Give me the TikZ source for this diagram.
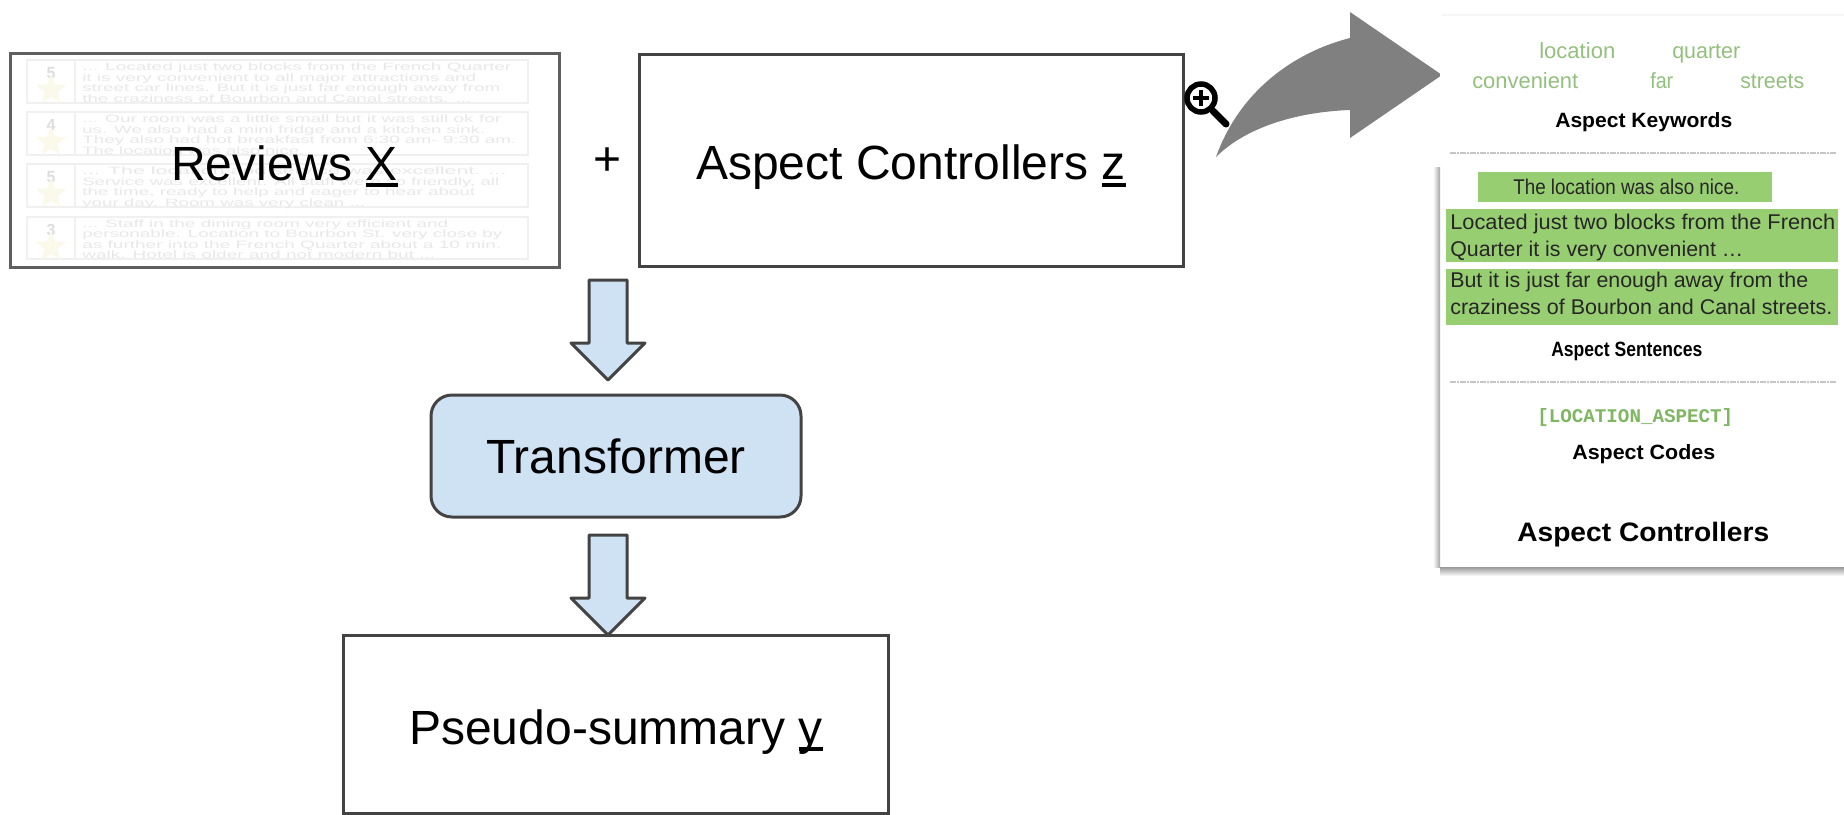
\documentclass[tikz,border=0pt]{standalone}
\usepackage{graphicx}
\usepackage{fontspec}
\setmainfont{Liberation Sans}
\setmonofont{Liberation Mono}
\usetikzlibrary{shapes.geometric,calc}
\definecolor{edgec}{HTML}{434343}
\definecolor{revedge}{HTML}{5F5F5F}
\definecolor{bluef}{HTML}{CFE2F3}
\definecolor{fadetext}{HTML}{E8E8E8}
\definecolor{fadeline}{HTML}{F0F0F0}
\definecolor{fadestar}{HTML}{FBF9EA}
\definecolor{fadenum}{HTML}{DDDDDD}
\definecolor{kwgreen}{HTML}{93C07E}
\definecolor{codegreen}{HTML}{7FB661}
\definecolor{hlgreen}{HTML}{98CE72}
\definecolor{bigarrow}{HTML}{808080}
\newdimen\pxu \pxu=0.75pt
\newcounter{autonode}
\newcommand{\ulc}[1]{\setbox0\hbox{#1}\rlap{\rule[-7\pxu]{\wd0}{4\pxu}}\box0 }
\newcommand{\fitw}[2]{\resizebox{#1\pxu}{\height}{#2}}
% faded review line: baseline y, right end, text
\newcommand{\revline}[3]{\stepcounter{autonode}\node[revtext] (rl\theautonode) at (82,#1) {\fitw{\the\numexpr#2-82\relax}{#3}};}
% panel text: font style, colour, left x, right x, baseline y, text
\newcommand{\ptext}[6]{\stepcounter{autonode}\node[anchor=base west,inner sep=0pt,text=#2,font=#1] (pt\theautonode) at (#3,#5) {\fitw{\the\numexpr#4-#3\relax}{#6}};}
\tikzset{
  mainbox/.style={draw=edgec,line width=3*0.75pt,inner sep=0pt,font=\fontsize{36}{36}\selectfont,text depth=0pt},
  revtext/.style={anchor=base west,inner sep=0pt,text=fadetext,font=\fontsize{8}{8}\selectfont},
  revcard/.style={draw=fadeline,line width=1.5},
  blockarrow/.style={draw=edgec,fill=bluef,line width=3*0.75pt,line join=round},
  sepline/.style={draw=gray!45,line width=1.5,dash pattern=on 2pt off 0.5pt},
  hl/.style={fill=hlgreen,draw=none},
  revnum/.style={text=fadenum,inner sep=0pt,font=\fontsize{12}{12}\selectfont\bfseries},
  revstar/.style={star,star points=5,star point ratio=2.4,fill=fadestar,draw=none,minimum size=32*0.75pt,inner sep=0pt}
}
\begin{document}
\begin{tikzpicture}[x=0.75pt,y=-0.75pt]
\useasboundingbox (0,0) rectangle (1844,814);
\fill[white] (0,0) rectangle (1844,814);

% --- faded review cards
\foreach \t/\b/\n/\k in {60/103/5/a,112/155/4/b,164/207/5/c,217/259/3/d}{
  \draw[revcard] (27,\t) rectangle (528,\b);
  \draw[revcard] (75,\t) -- (75,\b);
  \node[revnum] (num\k) at (51,\t+13) {\n};
  \node[revstar] (star\k) at (51,\t+30) {};
}
\revline{70}{511}{... Located just two blocks from the French Quarter}
\revline{81}{476}{it is very convenient to all major attractions and}
\revline{91}{500}{street car lines. But it is just far enough away from}
\revline{102}{471}{the craziness of Bourbon and Canal streets. ...}
\revline{122}{501}{... Our room was a little small but it was still ok for}
\revline{133}{485}{us. We also had a mini fridge and a kitchen sink.}
\revline{143}{516}{They also had hot breakfast from 6:30 am- 9:30 am.}
\revline{154}{304}{The location was also nice.}
\revline{174}{506}{... The location and service was excellent. ...}
\revline{185}{499}{Service was excellent. All staff were so friendly, all}
\revline{195}{475}{the time, ready to help and eager to hear about}
\revline{206}{365}{your day. Room was very clean ...}
\revline{227}{448}{... Staff in the dining room very efficient and}
\revline{237}{502}{personable. Location to Bourbon St. very close by}
\revline{248}{501}{as further into the French Quarter about a 10 min.}
\revline{258}{435}{walk. Hotel is older and not modern but ...}

% --- main boxes
\node[mainbox,draw=revedge,line width=3*0.75pt,minimum width=549*0.75pt,minimum height=214*0.75pt,text height=29.25pt] (reviews) at (284.5,160.5) {Reviews \ulc{X}};
\node[mainbox,minimum width=544*0.75pt,minimum height=212*0.75pt,text height=29.25pt] (aspect) at (911,160) {Aspect Controllers \ulc{z}};
\node[inner sep=0pt,font=\fontsize{36}{36}\selectfont] (plus) at (608,162) {+};
\node[mainbox,fill=bluef,rounded corners=21*0.75pt,minimum width=370*0.75pt,minimum height=122*0.75pt,text height=25.5pt] (transformer) at (616,456) {Transformer};
\node[mainbox,minimum width=545*0.75pt,minimum height=178*0.75pt,text height=30pt] (pseudo) at (616,724) {Pseudo-summary \ulc{y}};

% --- block arrows
\coordinate (a1top) at (608,280);
\coordinate (a1tip) at (608,380);
\coordinate (a2top) at (608,535);
\coordinate (a2tip) at (608,635);
\foreach \p/\q in {a1top/a1tip,a2top/a2tip}{
  \draw[blockarrow] ($(\p)+(-19,0)$) -- ($(\p)+(19,0)$) -- ($(\q)+(19,-37)$) -- ($(\q)+(37,-37)$) -- (\q) -- ($(\q)+(-37,-37)$) -- ($(\q)+(-19,-37)$) -- cycle;
}

% --- curved grey arrow
\fill[bigarrow] (1216,157) .. controls (1240,90) and (1295,52) .. (1350,38) -- (1350,12) -- (1442,75) -- (1350,138) -- (1350,110) .. controls (1295,112) and (1245,128) .. (1216,157) -- cycle;

% --- magnifier
\draw[black,line width=7*0.75pt,line cap=round] (1213,111) -- (1226,124);
\draw[black,fill=white,line width=5.5*0.75pt] (1201,98) circle (14);
\draw[black,line width=4*0.75pt] (1193,98) -- (1209,98) (1201,90) -- (1201,106);

% --- right panel
\fill[white] (1440,15) rectangle (1844,567);
\draw[gray!8,line width=1.5] (1442,15) -- (1844,15);
\shade[left color=white,right color=gray!70] (1433,167) rectangle (1440,567);
\shade[top color=gray!80,bottom color=white] (1440,567) rectangle (1844,576);

\ptext{\fontsize{16.5}{16.5}\selectfont}{kwgreen}{1539}{1615}{58}{location}
\ptext{\fontsize{16.5}{16.5}\selectfont}{kwgreen}{1672}{1740}{58}{quarter}
\ptext{\fontsize{16.5}{16.5}\selectfont}{kwgreen}{1472}{1578}{88}{convenient}
\ptext{\fontsize{16.5}{16.5}\selectfont}{kwgreen}{1650}{1673}{88}{far}
\ptext{\fontsize{16.5}{16.5}\selectfont}{kwgreen}{1740}{1804}{88}{streets}
\ptext{\fontsize{15.5}{15.5}\selectfont\bfseries}{black}{1555}{1732}{127}{Aspect Keywords}
\draw[sepline] (1450,153) -- (1836,153);

\fill[hl] (1478,172) rectangle (1772,202);
\fill[hl] (1446,209) rectangle (1838,262);
\fill[hl] (1446,269) rectangle (1838,325);
\ptext{\fontsize{16}{16}\selectfont}{black!85}{1513}{1739}{194}{The location was also nice.}
\ptext{\fontsize{16}{16}\selectfont}{black!85}{1450}{1835}{229}{Located just two blocks from the French}
\ptext{\fontsize{16}{16}\selectfont}{black!85}{1450}{1743}{256}{Quarter it is very convenient …}
\ptext{\fontsize{16}{16}\selectfont}{black!85}{1450}{1808}{287}{But it is just far enough away from the}
\ptext{\fontsize{16}{16}\selectfont}{black!85}{1450}{1832}{314}{craziness of Bourbon and Canal streets.}
\ptext{\fontsize{15.5}{15.5}\selectfont\bfseries}{black}{1551}{1702}{356}{Aspect Sentences}
\draw[sepline] (1450,382) -- (1836,382);
\ptext{\fontsize{14.5}{14.5}\selectfont\ttfamily\bfseries}{codegreen}{1537}{1733}{422}{[LOCATION\_ASPECT]}
\ptext{\fontsize{15.5}{15.5}\selectfont\bfseries}{black}{1572}{1715}{459}{Aspect Codes}
\ptext{\fontsize{20}{20}\selectfont\bfseries}{black}{1517}{1769}{541}{Aspect Controllers}
\end{tikzpicture}
\end{document}
